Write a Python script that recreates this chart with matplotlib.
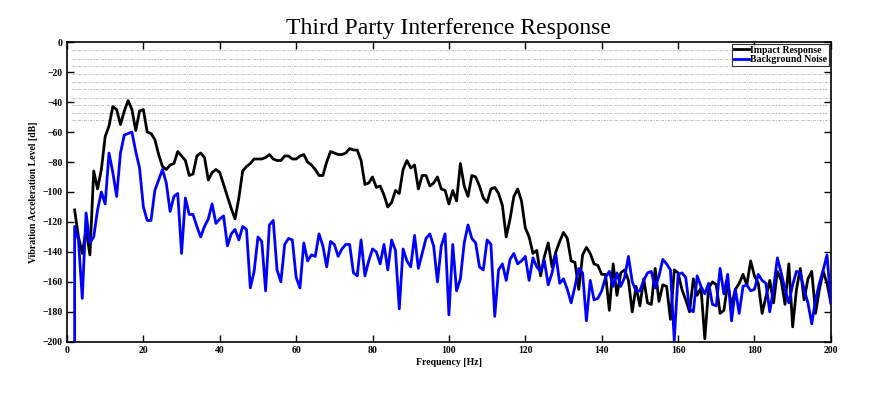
import numpy as np
import matplotlib
matplotlib.use("Agg")
import matplotlib.pyplot as plt

# frequency axis, 1 Hz steps
freq = np.arange(2, 201)

# impact response level [dB], f = 2..200 Hz
impact_db = [
    -112, -130, -141, -125, -142, -86, -98, -85, -63, -56,
    -43, -45, -55, -46, -39, -45, -59, -46, -45, -60,
    -61, -65, -75, -83, -85, -82, -81, -73, -76, -79,
    -89, -88, -76, -74, -77, -92, -87, -85, -87, -95,
    -103, -111, -118, -104, -86, -83, -81, -78, -78, -78,
    -77, -75, -78, -79, -79, -76, -76, -78, -78, -76,
    -75, -80, -82, -85, -89, -89, -80, -73, -74, -75,
    -75, -74, -71, -72, -72, -79, -95, -94, -90, -97,
    -96, -102, -110, -107, -99, -101, -85, -79, -84, -82,
    -98, -89, -89, -96, -94, -90, -98, -99, -108, -99,
    -106, -81, -96, -103, -89, -90, -96, -104, -107, -98,
    -97, -101, -109, -130, -118, -103, -98, -106, -124, -130,
    -141, -139, -156, -143, -134, -150, -140, -133, -127, -131,
    -146, -147, -165, -142, -137, -141, -148, -149, -155, -155,
    -179, -148, -169, -154, -152, -159, -180, -163, -176, -158,
    -174, -175, -151, -173, -162, -163, -185, -152, -154, -165,
    -172, -180, -158, -169, -164, -198, -164, -160, -162, -181,
    -179, -161, -176, -165, -161, -155, -162, -146, -156, -161,
    -181, -170, -159, -174, -153, -159, -175, -148, -190, -165,
    -151, -172, -158, -153, -181, -165, -153, -161, -174,
]

# background noise level [dB], f = 2..200 Hz
noise_db = [
    -123, -132, -171, -114, -134, -130, -112, -100, -108, -74,
    -87, -103, -74, -62, -61, -60, -73, -84, -110, -119,
    -119, -99, -92, -85, -94, -113, -103, -101, -141, -104,
    -115, -115, -123, -130, -123, -118, -108, -121, -118, -116,
    -136, -128, -125, -132, -123, -125, -164, -153, -130, -133,
    -166, -122, -119, -152, -160, -135, -131, -132, -157, -164,
    -134, -146, -142, -143, -128, -136, -150, -133, -135, -143,
    -138, -135, -135, -154, -156, -132, -156, -146, -138, -140,
    -148, -135, -152, -132, -139, -178, -138, -146, -150, -129,
    -151, -141, -131, -128, -136, -160, -136, -128, -182, -135,
    -166, -158, -134, -122, -131, -134, -150, -152, -132, -135,
    -183, -152, -148, -159, -145, -141, -148, -146, -143, -159,
    -144, -150, -153, -146, -162, -154, -142, -161, -158, -165,
    -174, -163, -151, -154, -186, -159, -172, -171, -166, -157,
    -153, -163, -154, -163, -157, -143, -160, -166, -166, -159,
    -154, -153, -164, -156, -145, -148, -152, -199, -155, -154,
    -157, -178, -180, -156, -163, -168, -161, -175, -176, -151,
    -168, -155, -186, -165, -181, -163, -162, -166, -165, -155,
    -159, -161, -180, -164, -144, -154, -165, -174, -162, -153,
    -154, -165, -174, -188, -172, -161, -152, -142, -174,
]

# the noise trace drops off the bottom at the first bin
noise_freq = np.concatenate([[freq[0]], freq])
noise_vals = [-260] + noise_db

# grey reference levels near the top
ref_levels = [-5.5, -11, -16, -21, -26.5, -31.5, -37, -42, -47, -52]

plt.rcParams["font.family"] = ["Liberation Serif", "DejaVu Serif"]

fig = plt.figure(figsize=(8.7, 4.05), dpi=100)
ax = fig.add_axes([0.077, 0.156, 0.878, 0.740])

for lv in ref_levels:
    ax.axhline(lv, xmin=0.007, color="#b0b0b0", lw=0.6, ls=(0, (3, 1.5, 1, 1.5)), zorder=1)

ax.plot(freq, impact_db, color="black", lw=2.0, label="Impact Response", zorder=3)
ax.plot(noise_freq, noise_vals, color="#0000ff", lw=2.0, label="Background Noise", zorder=4)

ax.set_xlim(0, 200)
ax.set_ylim(-200, 0)
ax.set_xticks(range(0, 201, 20))
ax.set_yticks(range(-200, 1, 20))
ax.tick_params(direction="in", top=True, right=True, length=5, width=1, labelsize=7, pad=3)
for lab in ax.get_xticklabels() + ax.get_yticklabels():
    lab.set_fontweight("bold")
for sp in ax.spines.values():
    sp.set_linewidth(1.2)

ax.set_xlabel("Frequency [Hz]", fontsize=7, fontweight="bold", labelpad=2)
ax.set_ylabel("Vibration Acceleration Level [dB]", fontsize=7, fontweight="bold", labelpad=3)
ax.set_title("Third Party Interference Response", fontsize=17, pad=6)

leg = ax.legend(loc="upper right", prop={"weight": "bold", "size": 7},
                frameon=True, fancybox=False, handlelength=1.6, handletextpad=0.1,
                borderpad=0.2, labelspacing=0.05, borderaxespad=0.15)
leg.get_frame().set_edgecolor("black")
leg.get_frame().set_linewidth(0.8)

plt.savefig("out.png", dpi=100)
